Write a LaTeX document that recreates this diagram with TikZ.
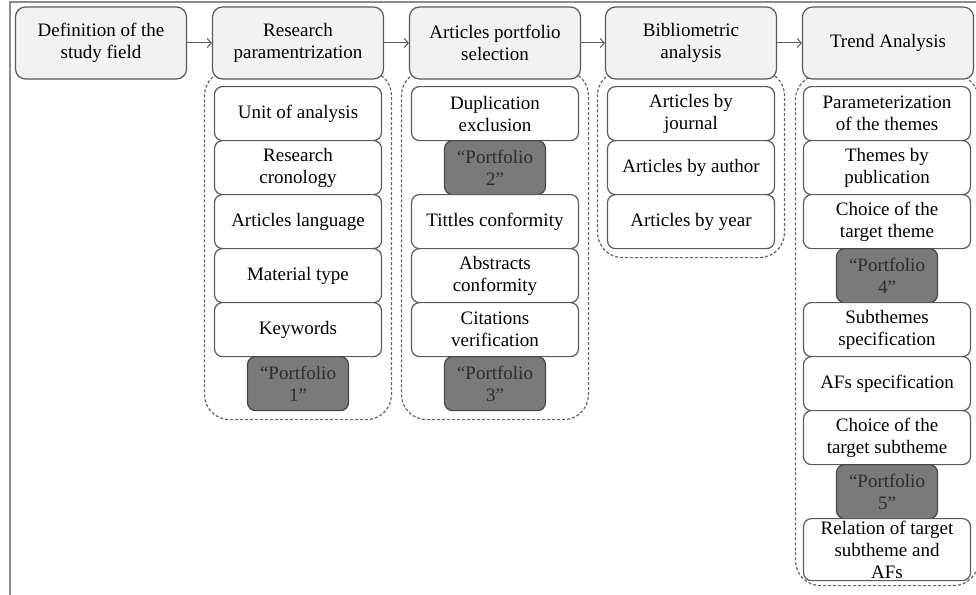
\documentclass[tikz,border=0pt]{standalone}
\usepackage{fontspec}
\setmainfont{Liberation Serif}
\usetikzlibrary{arrows.meta,positioning,fit,backgrounds}

\begin{document}
\begin{tikzpicture}[x=1pt,y=-1pt,line cap=rect,
	stage/.style={draw=custcol_5a_5a_5a, fill=custcol_f2_f2_f2, rounded corners=10pt, line width=1.2pt,
		minimum width=171pt, minimum height=72pt, inner sep=0pt, align=center,
		font=\fontsize{19pt}{22pt}\selectfont},
	task/.style={draw=custcol_5a_5a_5a, fill=white, rounded corners=8pt, line width=1.2pt,
		minimum width=167pt, minimum height=54pt, inner sep=0pt, outer sep=0pt, align=center,
		font=\fontsize{19pt}{22pt}\selectfont},
	folio/.style={task, draw=custcol_46_46_46, fill=custcol_7a_7a_7a, text=custcol_2d_2d_2d,
		minimum width=101pt},
	group/.style={draw=custcol_64_64_64, line width=1.2pt, dash pattern=on 3pt off 2pt,
		rounded corners=25pt, inner xsep=10pt, inner ysep=9pt},
	link/.style={draw=custcol_5a_5a_5a, line width=1pt, -{Straight Barb[length=4pt,width=9pt]}}]
	\definecolor{custcol_5a_5a_5a}{RGB}{90, 90, 90}
	\definecolor{custcol_f2_f2_f2}{RGB}{242, 242, 242}
	\definecolor{custcol_46_46_46}{RGB}{70, 70, 70}
	\definecolor{custcol_7a_7a_7a}{RGB}{122, 122, 122}
	\definecolor{custcol_2d_2d_2d}{RGB}{45, 45, 45}
	\definecolor{custcol_64_64_64}{RGB}{100, 100, 100}
	\definecolor{custcol_8c_8c_8c}{RGB}{140, 140, 140}
	\useasboundingbox (0,0) rectangle (976,594);
	\clip (0,0) rectangle (976,594);
	\draw [line width=1.5pt, custcol_8c_8c_8c] (10,610) -- (10,2) -- (990,2);
	% stages
	\node[stage] (stDef) at (101,43) {Definition of the\\study field};
	\node[stage] (stPar) at (298,43) {Research\\paramentrization};
	\node[stage] (stSel) at (495,43) {Articles portfolio\\selection};
	\node[stage] (stBib) at (691,43) {Bibliometric\\analysis};
	\node[stage] (stTrd) at (888,43) {Trend Analysis};
	\draw[link] (stDef) -- (stPar);
	\draw[link] (stPar) -- (stSel);
	\draw[link] (stSel) -- (stBib);
	\draw[link] (stBib) -- (stTrd);
	% research parametrization
	\node[task, below=7pt of stPar] (parA) {Unit of analysis};
	\node[task, below=0pt of parA] (parB) {Research\\cronology};
	\node[task, below=0pt of parB] (parC) {Articles language};
	\node[task, below=0pt of parC] (parD) {Material type};
	\node[task, below=0pt of parD] (parE) {Keywords};
	\node[folio, below=0pt of parE] (parP) {“Portfolio\\1”};
	% portfolio selection
	\node[task, below=7pt of stSel] (selA) {Duplication\\exclusion};
	\node[folio, below=0pt of selA] (selP) {“Portfolio\\2”};
	\node[task, below=0pt of selP] (selB) {Tittles conformity};
	\node[task, below=0pt of selB] (selC) {Abstracts\\conformity};
	\node[task, below=0pt of selC] (selD) {Citations\\verification};
	\node[folio, below=0pt of selD] (selQ) {“Portfolio\\3”};
	% bibliometric analysis
	\node[task, below=7pt of stBib] (bibA) {Articles by\\journal};
	\node[task, below=0pt of bibA] (bibB) {Articles by author};
	\node[task, below=0pt of bibB] (bibC) {Articles by year};
	% trend analysis
	\node[task, below=7pt of stTrd, xshift=-1pt] (trdA) {Parameterization\\of the themes};
	\node[task, below=0pt of trdA] (trdB) {Themes by\\publication};
	\node[task, below=0pt of trdB] (trdC) {Choice of the\\target theme};
	\node[folio, below=0pt of trdC] (trdP) {“Portfolio\\4”};
	\node[task, below=0pt of trdP] (trdD) {Subthemes\\specification};
	\node[task, below=0pt of trdD] (trdE) {AFs specification};
	\node[task, below=0pt of trdE] (trdF) {Choice of the\\target subtheme};
	\node[folio, below=0pt of trdF] (trdQ) {“Portfolio\\5”};
	\node[task, below=0pt of trdQ, minimum height=62pt] (trdG) {Relation of target\\subtheme and\\AFs};
	% dashed groups
	\begin{scope}[on background layer]
		\node[group, fit=(stPar.south)(parA)(parP)] (grPar) {};
		\node[group, fit=(stSel.south)(selA)(selQ)] (grSel) {};
		\node[group, fit=(stBib.south)(bibA)(bibC)] (grBib) {};
		\node[group, inner xsep=8pt, inner ysep=5pt, fit=(stTrd.south)(trdA)(trdG)] (grTrd) {};
	\end{scope}
\end{tikzpicture}
\end{document}
